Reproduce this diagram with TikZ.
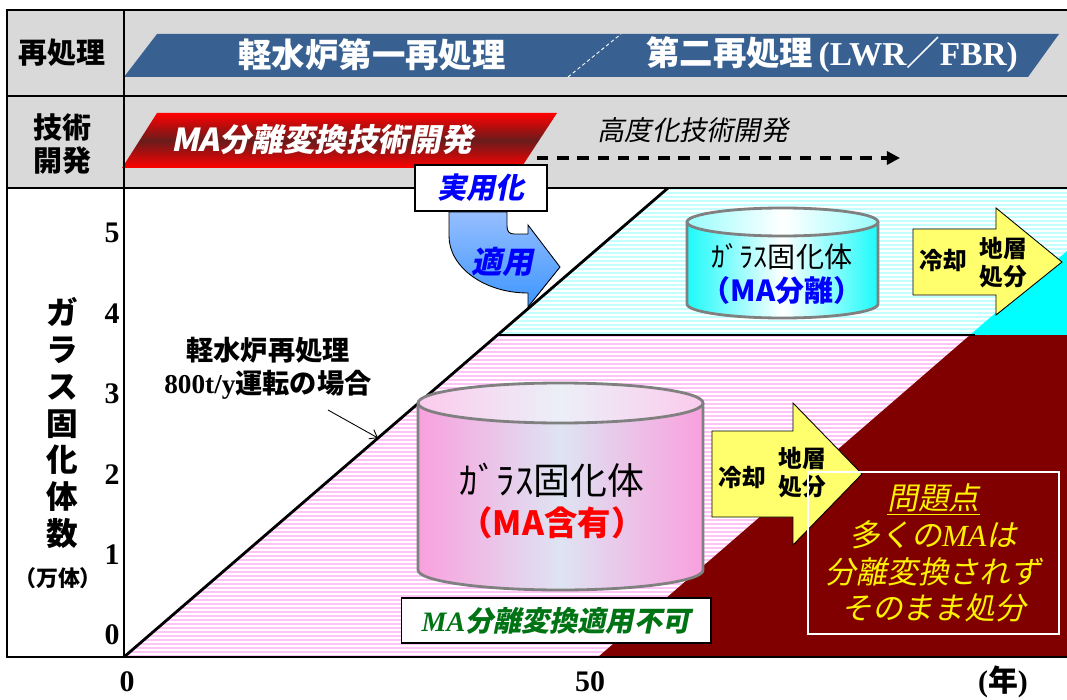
\documentclass[tikz,border=0pt]{standalone}
\usepackage{fontspec}
\setmainfont{Liberation Serif}
\newfontfamily\jp{Noto Sans CJK JP}[
  BoldFont={Noto Sans CJK JP/B},
  ItalicFont={Noto Sans CJK JP}, ItalicFeatures={FakeSlant=0.2},
  BoldItalicFont={Noto Sans CJK JP/B}, BoldItalicFeatures={FakeSlant=0.2}]
\usetikzlibrary{arrows.meta}

\definecolor{hdrgray}{RGB}{217,217,217}
\definecolor{bandblue}{RGB}{56,97,146}
\definecolor{darkband}{RGB}{105,28,28}
\definecolor{stripepink}{RGB}{255,195,248}
\definecolor{stripecyan}{RGB}{195,255,255}
\definecolor{deepred}{RGB}{128,0,0}
\definecolor{solidcyan}{RGB}{0,255,255}
\definecolor{pinkglass}{RGB}{249,160,222}
\definecolor{paleblue}{RGB}{222,228,242}
\definecolor{glasscyan}{RGB}{30,250,250}
\definecolor{edgegray}{RGB}{128,128,128}
\definecolor{coolyellow}{RGB}{255,255,110}
\definecolor{okgreen}{RGB}{0,115,20}
\definecolor{applytop}{RGB}{150,190,255}
\definecolor{applybot}{RGB}{60,150,255}

\begin{document}
\begin{tikzpicture}[x=0.02cm, y=-0.02cm,
  frame/.style={line width=1.6pt},
  hdr/.style={font=\jp\bfseries\fontsize{16.5}{19}\selectfont, align=center},
  bandtext/.style={white, font=\jp\bfseries\fontsize{19}{22}\selectfont},
  tick/.style={font=\bfseries\fontsize{17}{20}\selectfont},
  canister/.style={draw=edgegray, line width=1.6pt},
  coolarrow/.style={fill=coolyellow, draw=black, line width=0.5pt},
  cooltext/.style={font=\jp\bfseries\fontsize{13.5}{16}\selectfont, align=center}]
\useasboundingbox (0,0) rectangle (1067,699);

% header rows
\fill[hdrgray] (7,10) rectangle (1067,188);

% reprocessing band
\fill[bandblue] (124,77) -- (157,34) -- (1059,34) -- (1028,77) -- cycle;
\draw[white, line width=0.5pt, dash pattern=on 2pt off 1.5pt] (568,77) -- (621,34);
\node[bandtext] (lwrfirst) at (372,55) {軽水炉第一再処理};
\node[bandtext] (lwrsecond) at (832,55) {第二再処理{\rmfamily\,(LWR}／{\rmfamily FBR)}};

% development band
\shade[top color=red, bottom color=red, middle color=darkband] (122,168) -- (157,113) -- (557,113) -- (521,168) -- cycle;
\node[white, font=\jp\bfseries\itshape\fontsize{18}{21}\selectfont] (madev) at (322,140) {MA分離変換技術開発};
\node[font=\jp\itshape\fontsize{15.5}{18}\selectfont] (advdev) at (693,130) {高度化技術開発};
\coordinate (advstart) at (537,158);
\coordinate (advend) at (900,158);
\draw[line width=1.8pt, dash pattern=on 6.5pt off 5pt, -{Triangle[length=7.5pt,width=7.5pt]}] (advstart) -- (advend);

\node[hdr] (rowrep) at (62,53) {再処理};
\node[hdr] (rowdev) at (62,144) {技術\\開発};

% glass canister areas
\begin{scope}
  \clip (124,657) -- (498,335) -- (970,335) -- (598,657) -- cycle;
  \foreach \y in {335,339,...,657}
    \fill[stripepink] (124,\y) rectangle (1067,\y+2);
\end{scope}
\begin{scope}
  \clip (498,335) -- (668,188) -- (1067,188) -- (1067,251) -- (970,335) -- cycle;
  \foreach \y in {188,192,...,335}
    \fill[stripecyan] (124,\y) rectangle (1067,\y+2);
\end{scope}
\fill[solidcyan] (970,335) -- (1067,251) -- (1067,335) -- cycle;
\fill[deepred] (598,657) -- (970,335) -- (1067,335) -- (1067,657) -- cycle;

% cumulative line
\coordinate (origin) at (124,657);
\coordinate (knee) at (498,335);
\coordinate (ceil) at (668,188);
\draw[line width=1.6pt] (origin) -- (ceil);
\draw[line width=1.1pt] (knee) -- (975,335);

% frame
\draw[frame] (1067,10) -- (7,10) -- (7,657) -- (1067,657);
\draw[frame] (124,10) -- (124,657);
\draw[line width=1.2pt] (7,96) -- (1067,96);
\draw[frame] (7,188) -- (1067,188);

% axes
\node[font=\jp\bfseries\fontsize{18}{21}\selectfont, align=center] (ylab) at (62,423) {ガ\\ラ\\ス\\固\\化\\体\\数};
\node[font=\jp\bfseries\fontsize{12.5}{15}\selectfont] (yunit) at (58,578) {（万体）};
\foreach \v in {0,...,5}
  \node[tick] (y\v) at (112,635-80.4*\v) {\v};
\node[tick] (x0) at (127,682) {0};
\node[tick] (x50) at (590,682) {50};
\node[tick] (xunit) at (1003,682) {({\jp 年})};

\node[font=\jp\bfseries\fontsize{15.5}{18.7}\selectfont, align=center] (lwrnote) at (268,368) {軽水炉再処理\\{\rmfamily 800t/y}運転の場合};
\coordinate (notetail) at (328,410);
\coordinate (notehead) at (378,438);
\draw[line width=0.5pt, -{Straight Barb[length=4pt,width=6pt]}] (notetail) -- (notehead);

% canister with MA
\shade[left color=pinkglass, right color=pinkglass, middle color=paleblue]
  (418,403) -- (418,570) arc[start angle=180, end angle=0, x radius=142.5, y radius=20] -- (703,403) -- cycle;
\shade[left color=pinkglass!55, right color=pinkglass!55, middle color=paleblue!60] (560.5,403) ellipse[x radius=142.5, y radius=20];
\draw[canister] (418,403) -- (418,570) arc[start angle=180, end angle=0, x radius=142.5, y radius=20] -- (703,403);
\draw[canister] (560.5,403) ellipse[x radius=142.5, y radius=20];
\node[font=\jp\fontsize{21}{24}\selectfont] (glassma) at (552,480) {ｶﾞﾗｽ固化体};
\node[red, font=\jp\bfseries\fontsize{19}{22}\selectfont] (maheld) at (552,523) {（MA含有）};

% canister without MA
\shade[left color=glasscyan, right color=glasscyan, middle color=white]
  (687,222) -- (687,304) arc[start angle=180, end angle=0, x radius=95.5, y radius=14] -- (878,222) -- cycle;
\shade[left color=glasscyan!45, right color=glasscyan!45, middle color=white] (782.5,222) ellipse[x radius=95.5, y radius=14];
\draw[canister] (687,222) -- (687,304) arc[start angle=180, end angle=0, x radius=95.5, y radius=14] -- (878,222);
\draw[canister] (782.5,222) ellipse[x radius=95.5, y radius=14];
\node[font=\jp\fontsize{16}{19}\selectfont] (glasssep) at (782,257) {ｶﾞﾗｽ固化体};
\node[blue, font=\jp\bfseries\fontsize{16.5}{19}\selectfont] (masep) at (782,290) {（MA分離）};

% cooling and disposal arrows
\draw[coolarrow] (913,229) -- (996,229) -- (996,208) -- (1062,262) -- (996,315) -- (996,295) -- (913,295) -- cycle;
\node[cooltext] (coolup) at (943,260) {冷却};
\node[cooltext] (dispup) at (1003,263) {地層\\処分};
\draw[coolarrow] (712,431) -- (793,431) -- (793,403) -- (862,474) -- (793,545) -- (793,517) -- (712,517) -- cycle;
\node[cooltext] (coollow) at (742,477) {冷却};
\node[cooltext] (displow) at (802,473) {地層\\処分};

\node[draw, fill=white, line width=0.6pt, minimum width=6.2cm, minimum height=0.9cm, text=okgreen,
  font=\jp\bfseries\itshape\fontsize{16}{19}\selectfont] (noapply) at (556,620.5) {{\rmfamily MA}分離変換適用不可};

\node[draw=white, line width=1.2pt, minimum width=5.02cm, minimum height=3.24cm, text=yellow, align=center,
  font=\jp\itshape\fontsize{17.5}{21}\selectfont] (issue) at (933.5,553) {\underline{問題点}\\多くの{\rmfamily MA}は\\分離変換されず\\そのまま処分};

% practical use
\shadedraw[top color=applytop, middle color=white, bottom color=applybot, draw=black, line width=0.5pt]
  (449,212) -- (449,236) .. controls (449,267) and (484,293) .. (528,293) -- (528,307) -- (560,267)
  -- (528,225) -- (528,234) -- (514,234) .. controls (509,234) and (507,231) .. (507,226) -- (507,212) -- cycle;
\node[text=blue, font=\jp\bfseries\itshape\fontsize{17.5}{20}\selectfont] (apply) at (502,262) {適用};
\node[draw, fill=white, line width=0.6pt, minimum width=2.64cm, minimum height=0.92cm, text=blue,
  font=\jp\bfseries\itshape\fontsize{16.5}{19}\selectfont] (practical) at (481,188) {実用化};
\end{tikzpicture}
\end{document}
